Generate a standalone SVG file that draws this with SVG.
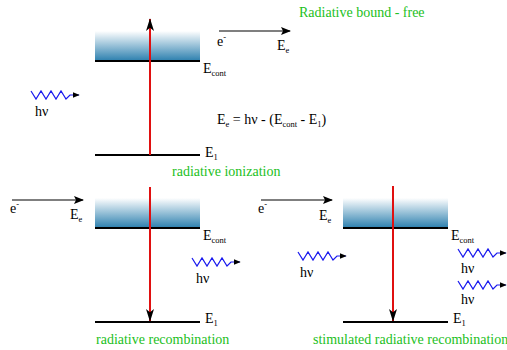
<svg xmlns="http://www.w3.org/2000/svg" width="507" height="350" viewBox="0 0 507 350" font-family="'Liberation Serif', 'Times New Roman', serif">
<style>
text{font-family:'Liberation Serif','Times New Roman',serif;font-size:14px;fill:#000}
.g{fill:#22c022}
.lvl{stroke:#000;stroke-width:2;fill:none}
.red{stroke:#e01010;stroke-width:2;fill:none}
.el{stroke:#000;stroke-width:1.2;fill:none}
.ph{stroke:#1a1aee;stroke-width:1.2;fill:none}
.sub{font-size:8.5px}
</style>
<defs>
<linearGradient id="band" x1="0" y1="0" x2="0" y2="1">
<stop offset="0" stop-color="#ffffff"/>
<stop offset="1" stop-color="#2b7fae"/>
</linearGradient>
<marker id="ah" viewBox="0 0 10 10" refX="9" refY="5" markerWidth="10" markerHeight="10" markerUnits="userSpaceOnUse" orient="auto">
<path d="M0,1 L10,5 L0,9 L2,5 Z" fill="#000"/>
</marker>
<marker id="ahs" viewBox="0 0 10 10" refX="9" refY="5" markerWidth="7" markerHeight="7" markerUnits="userSpaceOnUse" orient="auto">
<path d="M0,1 L10,5 L0,9 Z" fill="#000"/>
</marker>
<marker id="ahr" viewBox="0 0 16 10" refX="15" refY="5" markerWidth="16" markerHeight="8" markerUnits="userSpaceOnUse" orient="auto">
<path d="M0,0 L16,5 L0,10 L4,5 Z" fill="#000"/>
</marker>
<path id="photon" d="M0,0 l5,8 l5,-8 l5,8 l5,-8 l5,8 l5,-8 l5,8 l4,-4 h9"/>
</defs>

<g id="panel-ionization">
<text class="g" x="299" y="17">Radiative bound - free</text>
<rect x="95" y="31" width="105" height="30" fill="url(#band)"/>
<line class="lvl" x1="95" y1="61" x2="200" y2="61"/>
<line class="lvl" x1="95" y1="155" x2="200" y2="155"/>
<text x="203" y="73">E<tspan class="sub" dy="3">cont</tspan></text>
<text x="205" y="157">E<tspan class="sub" dy="3">1</tspan></text>
<g transform="translate(31,91)"><use href="#photon" class="ph" marker-end="url(#ahs)"/></g>
<text x="35" y="116">hν</text>
<text x="217" y="46">e<tspan class="sub" dy="-6">-</tspan></text>
<text x="277" y="50">E<tspan class="sub" dy="3">e</tspan></text>
<text x="217" y="124">E<tspan class="sub" dy="3">e</tspan><tspan dy="-3"> = hν - (E</tspan><tspan class="sub" dy="3">cont</tspan><tspan dy="-3"> - E</tspan><tspan class="sub" dy="3">1</tspan><tspan dy="-3">)</tspan></text>
<text class="g" x="172" y="176">radiative ionization</text>
</g>

<g id="panel-recombination">
<rect x="95" y="198" width="105" height="30" fill="url(#band)"/>
<line class="lvl" x1="95" y1="228" x2="200" y2="228"/>
<line class="lvl" x1="95" y1="322" x2="200" y2="322"/>
<text x="203" y="240">E<tspan class="sub" dy="3">cont</tspan></text>
<text x="205" y="323">E<tspan class="sub" dy="3">1</tspan></text>
<text x="10" y="213">e<tspan class="sub" dy="-6">-</tspan></text>
<text x="70" y="219">E<tspan class="sub" dy="3">e</tspan></text>
<g transform="translate(192,258)"><use href="#photon" class="ph" marker-end="url(#ahs)"/></g>
<text x="196" y="283">hν</text>
<text class="g" x="96" y="344">radiative recombination</text>
</g>

<g id="panel-stimulated">
<rect x="343" y="198" width="105" height="30" fill="url(#band)"/>
<line class="lvl" x1="343" y1="228" x2="448" y2="228"/>
<line class="lvl" x1="343" y1="322" x2="448" y2="322"/>
<text x="451" y="240">E<tspan class="sub" dy="3">cont</tspan></text>
<text x="453" y="323">E<tspan class="sub" dy="3">1</tspan></text>
<text x="258" y="213">e<tspan class="sub" dy="-6">-</tspan></text>
<text x="319" y="220">E<tspan class="sub" dy="3">e</tspan></text>
<g transform="translate(298,252)"><use href="#photon" class="ph" marker-end="url(#ahs)"/></g>
<text x="300" y="277">hν</text>
<g transform="translate(458,249)"><use href="#photon" class="ph" marker-end="url(#ahs)"/></g>
<text x="461" y="273">hν</text>
<g transform="translate(458,281)"><use href="#photon" class="ph" marker-end="url(#ahs)"/></g>
<text x="461" y="304">hν</text>
<text class="g" x="313" y="344">stimulated radiative recombination</text>
</g>

<g id="connectors">
<line class="red" x1="150" y1="155" x2="150" y2="19" marker-end="url(#ahr)"/>
<line class="red" x1="150" y1="187" x2="150" y2="321" marker-end="url(#ahr)"/>
<line class="red" x1="393" y1="186" x2="393" y2="321" marker-end="url(#ahr)"/>
<line class="el" x1="219" y1="31" x2="290" y2="31" marker-end="url(#ah)"/>
<line class="el" x1="12" y1="200" x2="83" y2="200" marker-end="url(#ah)"/>
<line class="el" x1="261" y1="200" x2="332" y2="200" marker-end="url(#ah)"/>
</g>
</svg>
